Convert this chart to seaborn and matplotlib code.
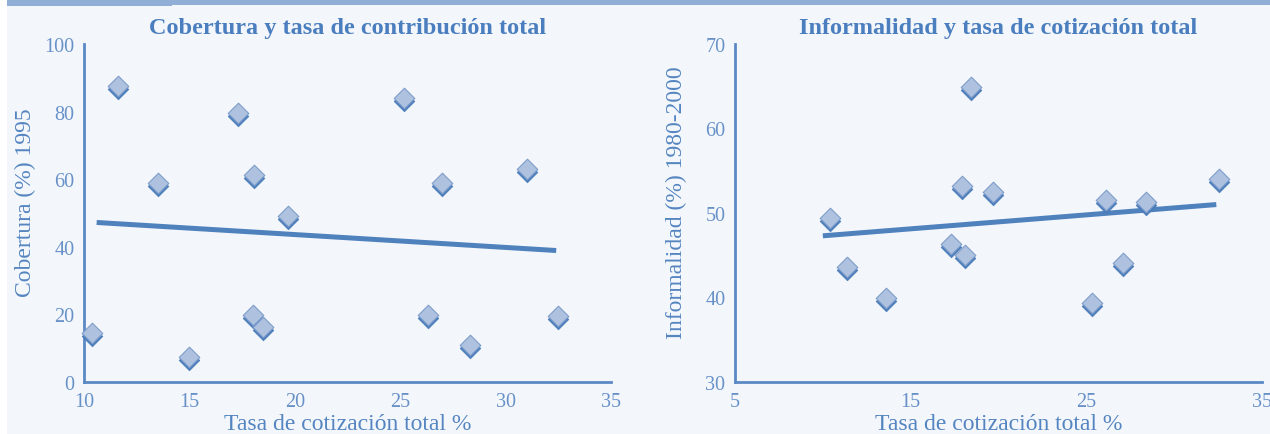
import matplotlib
matplotlib.use("Agg")
import matplotlib.pyplot as plt
import matplotlib.transforms as mtransforms
from matplotlib.patches import Rectangle
import seaborn as sns
import pandas as pd

# Coverage vs. total contribution rate
tasa_cob = [10.4, 11.6, 13.5, 15.0, 17.3, 18.05, 18.0, 18.5, 19.7, 25.2, 26.3, 27.0, 28.3, 31.0, 32.5]
cobertura = [14.5, 87.7, 58.8, 7.4, 79.7, 61.3, 19.7, 16.4, 49.2, 84.0, 19.9, 58.8, 11.0, 63.0, 19.6]
trend_cob_x = [10.6, 32.4]
trend_cob_y = [47.2, 38.9]

# Informality vs. total contribution rate
tasa_inf = [10.4, 11.4, 13.6, 17.3, 18.1, 17.95, 18.45, 19.7, 25.3, 26.1, 27.1, 28.4, 32.55]
informalidad = [49.4, 43.6, 39.9, 46.3, 45.0, 53.2, 64.9, 52.5, 39.4, 51.5, 44.1, 51.3, 54.0]
trend_inf_x = [10.0, 32.4]
trend_inf_y = [47.3, 51.0]

panels = [
    dict(x=tasa_cob, y=cobertura, tx=trend_cob_x, ty=trend_cob_y,
         title="Cobertura y tasa de contribución total",
         ylabel="Cobertura (%) 1995",
         xlim=(10, 35), xticks=[10, 15, 20, 25, 30, 35],
         ylim=(0, 100), yticks=[0, 20, 40, 60, 80, 100]),
    dict(x=tasa_inf, y=informalidad, tx=trend_inf_x, ty=trend_inf_y,
         title="Informalidad y tasa de cotización total",
         ylabel="Informalidad (%) 1980-2000",
         xlim=(5, 35), xticks=[5, 15, 25, 35],
         ylim=(30, 70), yticks=[30, 40, 50, 60, 70]),
]

sns.set_theme(style="white")
plt.rcParams["font.family"] = ["Liberation Serif", "DejaVu Serif"]

BG = "#F3F7FC"
BAND = "#91AED6"
AXIS = "#5A89C4"
TEXT = "#5585C0"
TICKTXT = "#6891C8"
LINE = "#4F81BD"
FILL = "#AEC2E0"
SHADOW = "#4A7CBA"

W, H = 1270, 435
fig = plt.figure(figsize=(W / 100, H / 100), dpi=100)
fig.patch.set_facecolor(BG)

# white strip on the left and header band along the top
fig.add_artist(Rectangle((0, 0), 7 / W, 1, transform=fig.transFigure,
                         facecolor="white", edgecolor="none", zorder=0))
fig.add_artist(Rectangle((7 / W, 1 - 7 / H), 165 / W, 7 / H, transform=fig.transFigure,
                         facecolor=BAND, edgecolor="none"))
fig.add_artist(Rectangle((172 / W, 1 - 6 / H), (W - 172) / W, 5 / H, transform=fig.transFigure,
                         facecolor=BAND, edgecolor="none"))

rects = [
    [84 / W, 52 / H, 527 / W, 338 / H],
    [735 / W, 52 / H, 527 / W, 338 / H],
]

for p, r in zip(panels, rects):
    ax = fig.add_axes(r)
    ax.set_facecolor(BG)
    df = pd.DataFrame({"x": p["x"], "y": p["y"]})

    shadow = mtransforms.offset_copy(ax.transData, fig=fig, x=0, y=-3, units="dots")
    sns.scatterplot(data=df, x="x", y="y", ax=ax, marker="D", s=110,
                    color=SHADOW, edgecolor=SHADOW, linewidth=0.5,
                    transform=shadow, zorder=3, clip_on=False)
    sns.scatterplot(data=df, x="x", y="y", ax=ax, marker="D", s=110,
                    color=FILL, edgecolor="#7E9DCB", linewidth=0.8,
                    zorder=4, clip_on=False)
    sns.lineplot(x=p["tx"], y=p["ty"], ax=ax, color=LINE, linewidth=3.6,
                 zorder=2, solid_capstyle="butt")

    ax.set_xlim(*p["xlim"])
    ax.set_ylim(*p["ylim"])
    ax.set_xticks(p["xticks"])
    ax.set_yticks(p["yticks"])
    for side in ("top", "right"):
        ax.spines[side].set_visible(False)
    for side in ("left", "bottom"):
        ax.spines[side].set_color(AXIS)
        ax.spines[side].set_linewidth(2)
    ax.tick_params(axis="both", which="major", direction="out", length=5, width=1.3,
                   color=AXIS, labelcolor=TICKTXT, labelsize=14.5, pad=2)
    ax.set_xlabel("Tasa de cotización total %", color=TEXT, fontsize=17, labelpad=2)
    ax.set_ylabel(p["ylabel"], color=TEXT, fontsize=17)
    ax.yaxis.set_label_coords(-0.112, 0.533)
    ax.yaxis.label.set_va("center")
    ax.set_title(p["title"], color="#4B7EBE", fontsize=17.5, fontweight="bold", pad=8)

fig.savefig("out.png", dpi=100, facecolor=BG)
